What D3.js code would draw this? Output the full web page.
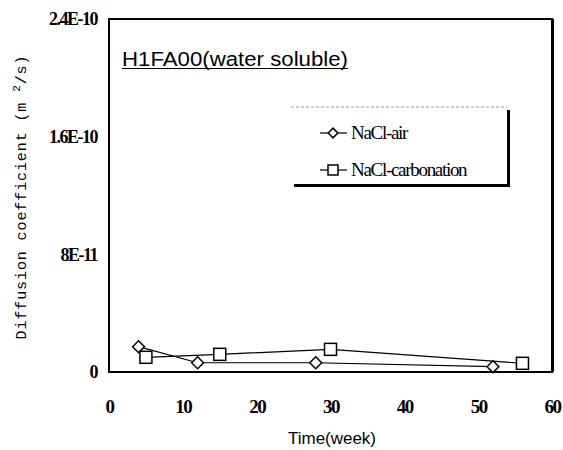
<!DOCTYPE html>
<html>
    <head>
        <meta charset="utf-8">
        <title>H1FA00 diffusion</title>
        <script type="text/javascript" src="https://d3js.org/d3.v7.min.js"></script>
        <style>
            body { margin: 0; background: #fff; }
        </style>
    </head>
    <body>
        <script type="text/javascript">
            // data
            let airWeeks = [4, 12, 28, 52];
            let airValues = [1.72e-11, 6.3e-12, 6.3e-12, 3.6e-12];
            let carbWeeks = [5, 15, 30, 56];
            let carbValues = [1.0e-11, 1.2e-11, 1.54e-11, 5.9e-12];
            let xTicks = [0, 10, 20, 30, 40, 50, 60];
            let yTicks = [0, 8e-11, 1.6e-10, 2.4e-10];
            let yTickLabels = ['0', '8E-11', '1.6E-10', '2.4E-10'];

            let width = 563;
            let height = 450;
            let plotLeft = 109, plotRight = 552, plotTop = 19, plotBottom = 372;

            let svg = d3.select('body')
                .append('svg')
                .attr('width', width)
                .attr('height', height);

            let x = d3.scaleLinear().domain([0, 60]).range([plotLeft, plotRight]);
            let y = d3.scaleLinear().domain([0, 2.4e-10]).range([plotBottom, plotTop]);

            // plot frame
            svg.append('rect')
                .attr('x', plotLeft).attr('y', plotTop)
                .attr('width', plotRight - plotLeft).attr('height', plotBottom - plotTop)
                .attr('fill', 'none')
                .attr('stroke', '#000')
                .attr('stroke-width', 2);
            svg.append('line')
                .attr('x1', plotRight + 1).attr('x2', plotRight + 1)
                .attr('y1', plotTop).attr('y2', plotBottom)
                .attr('stroke', '#000').attr('stroke-width', 2);

            // axes: labels only, no tick marks
            let serif = '"Liberation Serif", "DejaVu Serif", serif';
            let xAxis = svg.append('g')
                .attr('transform', `translate(0,${plotBottom})`)
                .call(d3.axisBottom(x).tickValues(xTicks).tickSize(0).tickPadding(28));
            xAxis.select('.domain').remove();
            xAxis.attr('font-family', null).attr('font-size', null);
            xAxis.selectAll('text')
                .style('font-family', serif)
                .style('font-size', '19px')
                .style('font-weight', 'bold')
                .style('letter-spacing', '-1.5px')
                .attr('fill', '#000');

            let yAxis = svg.append('g')
                .attr('transform', `translate(${plotLeft},0)`)
                .call(d3.axisLeft(y).tickValues(yTicks).tickSize(0).tickPadding(12)
                    .tickFormat((d, i) => yTickLabels[i]));
            yAxis.select('.domain').remove();
            yAxis.attr('font-family', null).attr('font-size', null);
            yAxis.selectAll('text')
                .style('font-family', serif)
                .style('font-size', '18px')
                .style('font-weight', 'bold')
                .style('letter-spacing', '-1.5px')
                .attr('fill', '#000');

            // axis titles
            svg.append('text')
                .attr('x', 332).attr('y', 444)
                .attr('text-anchor', 'middle')
                .style('font-family', '"Liberation Sans", sans-serif')
                .style('font-size', '16px')
                .attr('textLength', 88)
                .attr('lengthAdjust', 'spacingAndGlyphs')
                .text('Time(week)');

            let yTitle = svg.append('text')
                .attr('transform', 'translate(26,197) rotate(-90)')
                .attr('text-anchor', 'middle')
                .style('font-family', '"Liberation Mono", "DejaVu Sans Mono", monospace')
                .style('font-size', '15px')
                .style('letter-spacing', '0.9px');
            yTitle.append('tspan').text('Diffusion coefficient (m ');
            yTitle.append('tspan').style('font-size', '11px').attr('dy', -6).text('2');
            yTitle.append('tspan').attr('dy', 6).text('/s)');

            // panel title
            svg.append('text')
                .attr('x', 122).attr('y', 66)
                .style('font-family', '"Liberation Sans", sans-serif')
                .style('font-size', '20px')
                .attr('textLength', 226)
                .attr('lengthAdjust', 'spacingAndGlyphs')
                .text('H1FA00(water soluble)');
            svg.append('line')
                .attr('x1', 122).attr('x2', 348)
                .attr('y1', 68.5).attr('y2', 68.5)
                .attr('stroke', '#000').attr('stroke-width', 1.2);

            // series
            let airData = airWeeks.map((w, i) => [w, airValues[i]]);
            let carbData = carbWeeks.map((w, i) => [w, carbValues[i]]);
            let line = d3.line().x(d => x(d[0])).y(d => y(d[1]));

            svg.append('path').datum(airData)
                .attr('d', line)
                .attr('fill', 'none').attr('stroke', '#000').attr('stroke-width', 1.2);
            svg.append('path').datum(carbData)
                .attr('d', line)
                .attr('fill', 'none').attr('stroke', '#000').attr('stroke-width', 1.2);

            let diamond = d3.symbol().type(d3.symbolDiamond2).size(90);
            svg.selectAll('.air')
                .data(airData)
                .enter()
                .append('path')
                    .attr('class', 'air')
                    .attr('transform', d => `translate(${x(d[0])},${y(d[1])})`)
                    .attr('d', diamond)
                    .attr('fill', '#fff').attr('stroke', '#000').attr('stroke-width', 1.5);

            svg.selectAll('.carb')
                .data(carbData)
                .enter()
                .append('rect')
                    .attr('class', 'carb')
                    .attr('x', d => x(d[0]) - 6)
                    .attr('y', d => y(d[1]) - 6)
                    .attr('width', 12).attr('height', 12)
                    .attr('fill', '#fff').attr('stroke', '#000').attr('stroke-width', 1.5);

            // legend
            let lg = svg.append('g');
            lg.append('rect')
                .attr('x', 294).attr('y', 110)
                .attr('width', 216).attr('height', 77)
                .attr('fill', '#000');
            lg.append('rect')
                .attr('x', 291).attr('y', 107)
                .attr('width', 216).attr('height', 77)
                .attr('fill', '#fff');
            lg.append('line')
                .attr('x1', 291).attr('x2', 507)
                .attr('y1', 107).attr('y2', 107)
                .attr('stroke', '#999').attr('stroke-dasharray', '3,2');

            let entries = [
                { name: 'NaCl-air', y: 133, mark: 'diamond' },
                { name: 'NaCl-carbonation', y: 170, mark: 'square' }
            ];
            entries.forEach(e => {
                lg.append('line')
                    .attr('x1', 320).attr('x2', 347)
                    .attr('y1', e.y).attr('y2', e.y)
                    .attr('stroke', '#000').attr('stroke-width', 1.2);
                if (e.mark === 'diamond') {
                    lg.append('path')
                        .attr('transform', `translate(333,${e.y})`)
                        .attr('d', d3.symbol().type(d3.symbolDiamond2).size(60))
                        .attr('fill', '#fff').attr('stroke', '#000').attr('stroke-width', 1.5);
                } else {
                    lg.append('rect')
                        .attr('x', 328).attr('y', e.y - 5)
                        .attr('width', 10).attr('height', 10)
                        .attr('fill', '#fff').attr('stroke', '#000').attr('stroke-width', 1.5);
                }
                lg.append('text')
                    .attr('x', 351).attr('y', e.y + 6)
                    .style('font-family', serif)
                    .style('font-size', '19px')
                    .style('letter-spacing', '-1.3px')
                    .text(e.name);
            });
        </script>
    </body>
</html>
